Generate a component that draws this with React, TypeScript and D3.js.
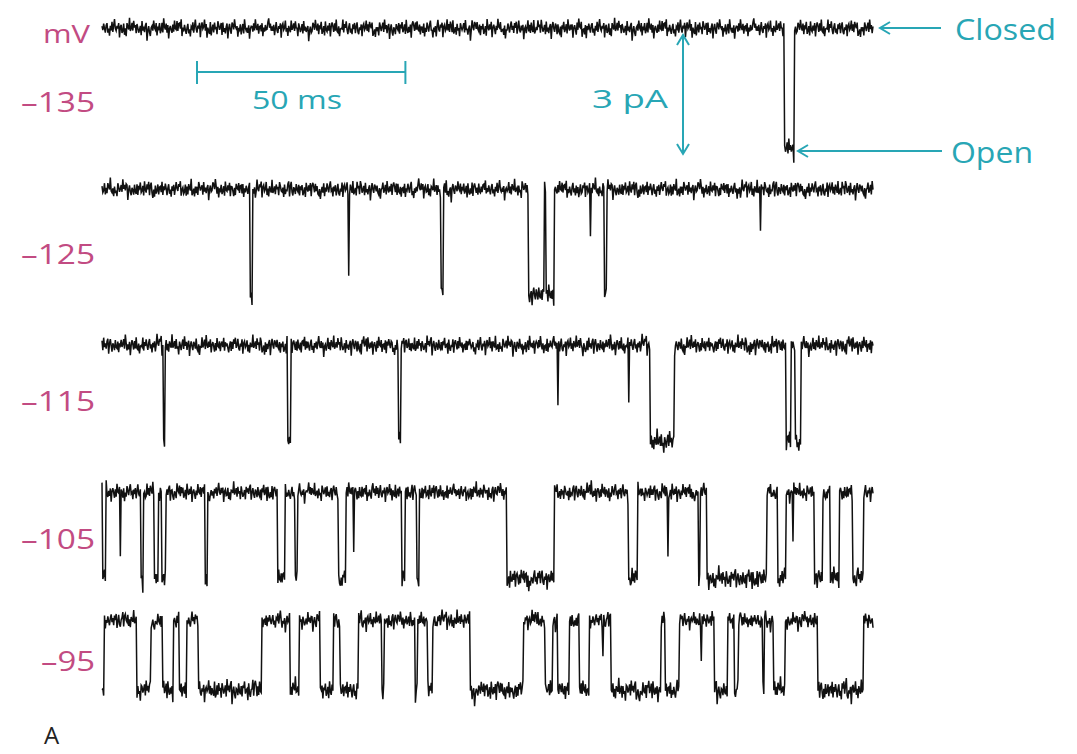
import * as d3 from "d3";

// holding potentials (mV), one trace per row
const voltages = ["–135", "–125", "–115", "–105", "–95"];
// single-channel amplitude at each potential (pA)
const amplitudesPA = [2.9, 2.55, 2.35, 2.1, 1.7];

// open intervals [start, end] in ms
const openings135 = [[163.9, 166.2]];
const openings125 = [
  [35.7, 36.1], [81.6, 82.0], [102.4, 106.2], [106.7, 108.6], [120.8, 121.2],
];
const openings115 = [
  [14.8, 15.2], [44.7, 45.4], [71.3, 71.7], [131.7, 137.4], [164.3, 165.3], [166.5, 167.7],
];
const openings105 = [
  [0.2, 1.0], [9.5, 9.9], [12.7, 13.5], [14.4, 15.4], [24.9, 25.3], [42.3, 44.0],
  [46.5, 46.9], [56.9, 58.6], [72.1, 72.8], [75.8, 76.2], [97.3, 108.6], [126.4, 128.5],
  [143.2, 143.6], [145.2, 159.6], [162.2, 164.1], [171.1, 173.0], [174.9, 177.0], [180.2, 182.8],
];
const openings95 = [
  [0, 0.6], [8.4, 11.8], [14.7, 17.1], [18.7, 20.4], [23.3, 38.4], [45.2, 47.3],
  [52.6, 55.5], [57.2, 61.5], [67.3, 67.8], [75.2, 75.7], [78.3, 79.3], [88.4, 101.2],
  [106.4, 108.1], [109.6, 112.2], [114.8, 117.0], [122.3, 134.1], [135.3, 138.6],
  [147.0, 150.2], [151.8, 152.8], [158.6, 159.0], [161.2, 163.9], [171.8, 182.8],
];

// brief, filtered events [time ms, fraction of full amplitude reached]
const partials135: number[][] = [];
const partials125 = [[59.3, 0.85], [117.3, 0.4], [158.1, 0.35]];
const partials115 = [[109.6, 0.6], [126.6, 0.54]];
const partials105 = [[4.6, 0.69], [60.5, 0.6], [134.2, 0.3], [135.9, 0.8], [165.8, 0.6]];
const partials95 = [[120.2, 0.5], [143.9, 0.53], [180.6, 0.45]];

const openings = [openings135, openings125, openings115, openings105, openings95];
const partials = [partials135, partials125, partials115, partials105, partials95];

// recorded background noise sample, in units of 0.04 pA
const noiseSample = [
  0.8, -1.6, 2.4, -0.5, -3.1, 1.2, 3.6, -2.2, 0.3, -4.0, 1.9, -0.9, 2.8, -3.4, 0.6, 4.5,
  -1.3, -2.7, 1.5, -0.2, 3.2, -5.6, 0.9, 2.1, -1.8, -0.6, 3.9, -2.9, 1.1, -3.7, 2.5, 0.2,
  -1.4, 5.8, -2.3, -0.8, 1.7, -3.0, 2.9, -1.1, 0.4, -4.6, 3.3, 1.0, -2.0, -0.3, 2.2, -3.5,
  4.1, -1.7, 0.7, -2.6, 1.4, 3.0, -6.2, 0.1, 2.7, -1.2, -3.3, 1.8, 0.5, -2.4, 3.7, -0.7,
  -1.9, 2.3, -4.2, 1.3, 0.0, 3.4, -2.8, -1.0, 2.0, -3.8, 4.8, -0.4, -2.1, 1.6, -1.5, 3.1,
  -5.0, 0.9, 2.6, -0.1, -3.2, 1.9, -2.5, 4.3, -0.6, -1.3, 2.4, -3.6, 0.8, 1.2, -2.2, 3.5, -4.4,
];
const noiseUnitPA = 0.04;

const W = 1077;
const H = 754;
const duration = 185; // ms
const dt = 0.2;
const x = d3.scaleLinear([0, duration], [102, 873]);
const baseY = [28, 189, 345, 492, 620];
const labelY = [112, 264, 411, 549, 671];
const pxPerPA = 41;

const magenta = "#c24b82";
const cyan = "#28a6b5";
const font = "'Open Sans', 'DejaVu Sans', sans-serif";

function traceData(k: number) {
  const amp = amplitudesPA[k];
  const open = openings[k];
  const part = partials[k];
  const n = Math.round(duration / dt);
  const N = noiseSample.length;
  const pts: [number, number][] = [];
  for (let i = 0; i <= n; i++) {
    const t = i * dt;
    const isOpen = open.some(([a, b]) => a < t + dt && b > t);
    let level = isOpen ? -amp : 0;
    const p = part.find(([tp]) => tp >= t && tp < t + dt);
    if (p) level = -amp * p[1];
    // fast jitter plus the same sample read slowly for drift
    const fast = noiseSample[(i + k * 23) % N];
    const slow = noiseSample[(Math.floor(i / 6) + k * 11) % N] * 0.4;
    const nz = (fast + slow) * noiseUnitPA * (isOpen ? 1.2 : 1);
    pts.push([t, level + nz]);
  }
  return pts;
}

function Trace({ k }: { k: number }) {
  const y = d3.scaleLinear([0, -1], [baseY[k], baseY[k] + pxPerPA]);
  const line = d3
    .line<[number, number]>()
    .x((d) => x(d[0]))
    .y((d) => y(d[1]));
  return <path d={line(traceData(k)) ?? ""} fill="none" stroke="#111" strokeWidth={1.5} />;
}

function Chevron({ x0, y0, dir }: { x0: number; y0: number; dir: "left" | "up" | "down" }) {
  const s = 10, w = 6;
  let d = "";
  if (dir === "left") d = `M${x0 + s},${y0 - w}L${x0},${y0}L${x0 + s},${y0 + w}`;
  if (dir === "up") d = `M${x0 - w},${y0 + s}L${x0},${y0}L${x0 + w},${y0 + s}`;
  if (dir === "down") d = `M${x0 - w},${y0 - s}L${x0},${y0}L${x0 + w},${y0 - s}`;
  return <path d={d} fill="none" stroke={cyan} strokeWidth={2} />;
}

export default function App() {
  const barStart = 22.8;
  const barEnd = barStart + 50;
  const arrowX = 683;
  const arrowTop = 35;
  const arrowBottom = arrowTop + 2.9 * pxPerPA;
  return (
    <svg
      width={W}
      height={H}
      style={{ position: "absolute", left: 0, top: 0, background: "#fff" }}
      fontFamily={font}
    >
      {voltages.map((_, k) => (
        <Trace key={k} k={k} />
      ))}

      <text x={43} y={43} fontSize={26} fill={magenta} textLength={47} lengthAdjust="spacingAndGlyphs">
        mV
      </text>
      {voltages.map((v, k) => (
        <text
          key={v}
          x={95}
          y={labelY[k]}
          fontSize={27}
          fill={magenta}
          textAnchor="end"
          textLength={v.length > 3 ? 74 : 54}
          lengthAdjust="spacingAndGlyphs"
        >
          {v}
        </text>
      ))}
      <text x={44} y={744} fontSize={24} fill="#222">
        A
      </text>

      {/* 50 ms scale bar */}
      <g stroke={cyan} strokeWidth={2}>
        <line x1={x(barStart)} x2={x(barEnd)} y1={72} y2={72} />
        <line x1={x(barStart)} x2={x(barStart)} y1={61} y2={84} />
        <line x1={x(barEnd)} x2={x(barEnd)} y1={61} y2={84} />
      </g>
      <text x={252} y={109} fontSize={26} fill={cyan} textLength={90} lengthAdjust="spacingAndGlyphs">
        50 ms
      </text>

      {/* 3 pA bar */}
      <line x1={arrowX} x2={arrowX} y1={arrowTop} y2={arrowBottom} stroke={cyan} strokeWidth={2} />
      <Chevron x0={arrowX} y0={arrowTop} dir="up" />
      <Chevron x0={arrowX} y0={arrowBottom} dir="down" />
      <text x={592} y={108} fontSize={26} fill={cyan} textLength={76} lengthAdjust="spacingAndGlyphs">
        3 pA
      </text>

      {/* state labels */}
      <line x1={880} x2={941} y1={28} y2={28} stroke={cyan} strokeWidth={2} />
      <Chevron x0={880} y0={28} dir="left" />
      <text x={955} y={40} fontSize={30} fill={cyan} textLength={101} lengthAdjust="spacingAndGlyphs">
        Closed
      </text>
      <line x1={798} x2={942} y1={151} y2={151} stroke={cyan} strokeWidth={2} />
      <Chevron x0={798} y0={151} dir="left" />
      <text x={951} y={163} fontSize={30} fill={cyan} textLength={82} lengthAdjust="spacingAndGlyphs">
        Open
      </text>
    </svg>
  );
}
